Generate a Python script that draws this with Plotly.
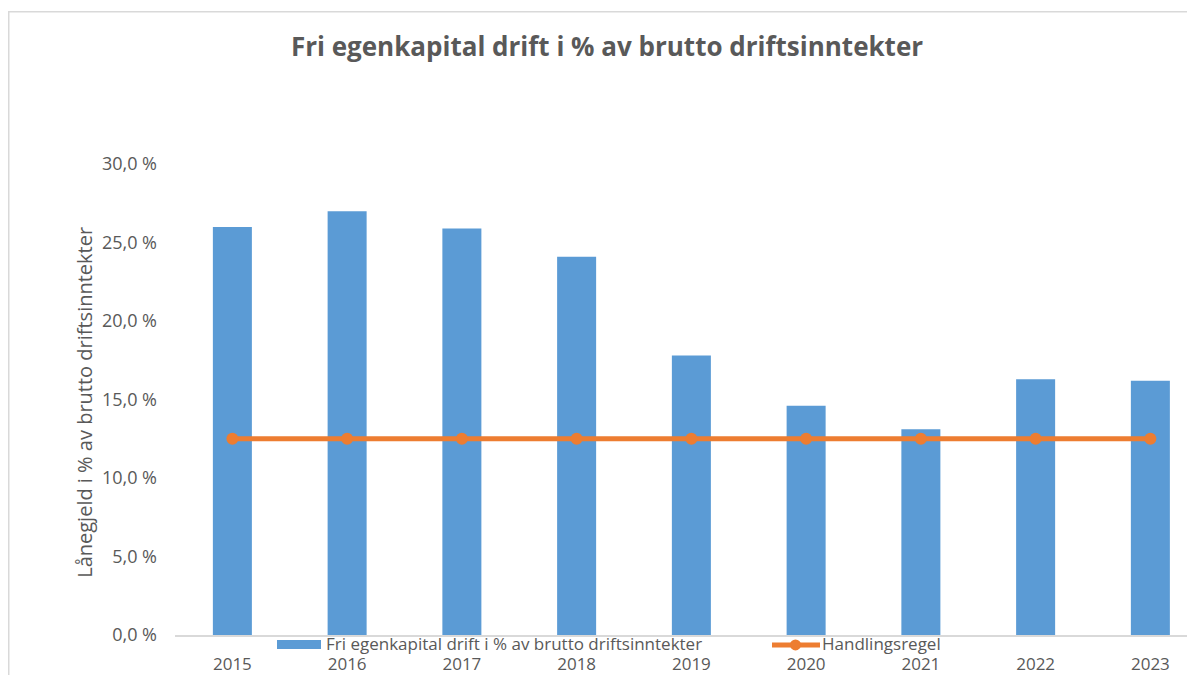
import plotly.graph_objects as go

years = ["2015", "2016", "2017", "2018", "2019", "2020", "2021", "2022", "2023"]
fri_egenkapital = [26.0, 27.0, 25.9, 24.1, 17.8, 14.6, 13.1, 16.3, 16.2]
handlingsregel = [12.5, 12.5, 12.5, 12.5, 12.5, 12.5, 12.5, 12.5, 12.5]
y_tickvals = [0, 5, 10, 15, 20, 25, 30]
y_ticktext = ["0,0 %", "5,0 %", "10,0 %", "15,0 %", "20,0 %", "25,0 %", "30,0 %"]
series_names = ["Fri egenkapital drift i % av brutto driftsinntekter", "Handlingsregel"]

# page has an 8px body margin; work in screen pixels and convert
OFF = 8
W, H = 1195 - OFF, 675 - OFF
L, R, T, B = 175 - OFF, 0, 117 - OFF, 675 - 639
pw = W - L - R
ph = H - T - B

def px_x(sx):
    return (sx - OFF - L) / pw

def px_y(sy):
    return (H - B - (sy - OFF)) / ph

grey = "#595959"
blue = "#5B9BD5"
orange = "#ED7D31"
font = "Open Sans"

fig = go.Figure()
fig.add_trace(go.Bar(
    x=years, y=fri_egenkapital, name=series_names[0],
    marker=dict(color=blue, line=dict(width=0)),
    width=0.34, showlegend=False,
))
fig.add_trace(go.Scatter(
    x=years, y=handlingsregel, name=series_names[1],
    mode="lines+markers",
    line=dict(color=orange, width=5),
    marker=dict(color=orange, size=12),
    showlegend=False,
))

x_end = -0.5 + pw / 114.75

annotations = [
    dict(
        text="Lånegjeld i % av brutto driftsinntekter",
        xref="paper", yref="paper", x=px_x(85), y=px_y(405),
        xanchor="center", yanchor="middle", textangle=-90, showarrow=False,
        font=dict(family=font, size=20, color=grey),
    ),
    dict(
        text=series_names[0], xref="paper", yref="paper",
        x=px_x(324), y=px_y(648), xanchor="left", yanchor="middle",
        showarrow=False, font=dict(family=font, size=17, color=grey),
    ),
    dict(
        text=series_names[1], xref="paper", yref="paper",
        x=px_x(820), y=px_y(648), xanchor="left", yanchor="middle",
        showarrow=False, font=dict(family=font, size=17, color=grey),
    ),
]

shapes = [
    dict(
        type="rect", xref="paper", yref="paper",
        x0=px_x(8.75), x1=px_x(1210), y0=px_y(700), y1=px_y(11),
        line=dict(color="#D9D9D9", width=1.5), fillcolor="rgba(0,0,0,0)",
        layer="below",
    ),
    # legend keys
    dict(
        type="rect", xref="paper", yref="paper",
        x0=px_x(277), x1=px_x(321), y0=px_y(653), y1=px_y(644),
        line=dict(width=0), fillcolor=blue,
    ),
    dict(
        type="line", xref="paper", yref="paper",
        x0=px_x(772), x1=px_x(820), y0=px_y(649), y1=px_y(649),
        line=dict(color=orange, width=5),
    ),
    dict(
        type="circle", xref="paper", yref="paper",
        x0=px_x(790), x1=px_x(801), y0=px_y(654.5), y1=px_y(643.5),
        line=dict(width=0), fillcolor=orange,
    ),
]

fig.update_layout(
    width=W, height=H,
    margin=dict(l=L, r=R, t=T, b=B),
    paper_bgcolor="white", plot_bgcolor="white",
    font=dict(family=font, color=grey, size=16),
    title=dict(
        text="<b>Fri egenkapital drift i % av brutto driftsinntekter</b>",
        x=(607 - OFF) / W, xanchor="center", y=1 - (47 - OFF) / H, yanchor="middle",
        font=dict(family=font, size=26, color=grey),
    ),
    showlegend=False,
    xaxis=dict(
        type="category", range=[-0.5, x_end],
        showgrid=False, showline=True, linecolor="#D9D9D9", linewidth=1.5,
        ticks="", tickfont=dict(family=font, size=17, color=grey),
        ticklabelstandoff=13,
    ),
    yaxis=dict(
        range=[0, 33], tickvals=y_tickvals, ticktext=y_ticktext,
        showgrid=False, zeroline=False, showline=False, ticks="",
        tickfont=dict(family=font, size=18, color=grey),
        ticklabelstandoff=17,
    ),
    annotations=annotations,
    shapes=shapes,
)

fig.write_html("out.html")
